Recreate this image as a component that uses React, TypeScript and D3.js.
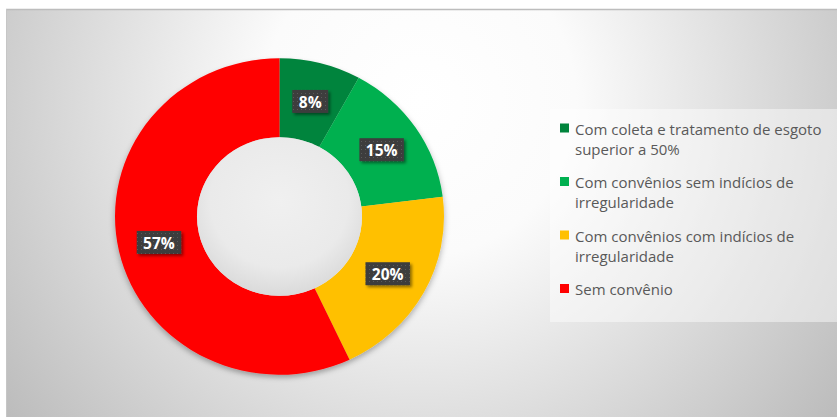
import React from "react";
import * as d3 from "d3";

const categories = [
  "Com coleta e tratamento de esgoto superior a 50%",
  "Com convênios sem indícios de irregularidade",
  "Com convênios com indícios de irregularidade",
  "Sem convênio",
];
const legendLines = [
  ["Com coleta e tratamento de esgoto", "superior a 50%"],
  ["Com convênios sem indícios de", "irregularidade"],
  ["Com convênios com indícios de", "irregularidade"],
  ["Sem convênio"],
];
const values = [8, 15, 20, 57];
const colors = ["#00843c", "#00b050", "#ffc000", "#ff0000"];

const W = 837;
const H = 417;
const CX = 279.5;
const CY = 216.5;
const R_OUT = 164.5;
const R_IN = 82.5;
const SY = 0.962;

export default function App() {
  const pie = d3.pie<number>().sort(null).value((d) => d);
  const arcs = pie(values);
  const arc = d3.arc<d3.PieArcDatum<number>>().innerRadius(R_IN).outerRadius(R_OUT);
  const labelArc = d3
    .arc<d3.PieArcDatum<number>>()
    .innerRadius((R_IN + R_OUT) / 2)
    .outerRadius((R_IN + R_OUT) / 2);

  const legendX = 560;
  const legendY0 = 128.5;
  const itemGap = 53.5;
  const lineH = 20;

  return (
    <svg
      width={W}
      height={H}
      style={{ position: "absolute", left: 0, top: 0, background: "#fff" }}
      fontFamily="'Open Sans', Lato, sans-serif"
    >
      <defs>
        <radialGradient id="bg" gradientUnits="userSpaceOnUse" cx={420} cy={100} r={520}>
          <stop offset="0" stopColor="#ffffff" />
          <stop offset="0.3" stopColor="#fbfbfb" />
          <stop offset="1" stopColor="#bcbcbc" />
        </radialGradient>
        <radialGradient id="hole" cx="0.5" cy="0.4" r="0.6">
          <stop offset="0" stopColor="#f0f0f0" />
          <stop offset="0.7" stopColor="#eaeaea" />
          <stop offset="1" stopColor="#dadada" />
        </radialGradient>
        <filter id="dshadow" x="-20%" y="-20%" width="140%" height="140%">
          <feDropShadow dx="0" dy="3" stdDeviation="3" floodColor="#000" floodOpacity="0.3" />
        </filter>
        <filter id="lshadow" x="-30%" y="-30%" width="160%" height="160%">
          <feDropShadow dx="2" dy="2" stdDeviation="1.5" floodColor="#000" floodOpacity="0.45" />
        </filter>
        <pattern id="dots" width="4" height="4" patternUnits="userSpaceOnUse">
          <rect width="4" height="4" fill="#3d3d3d" />
          <rect x="1" y="1" width="1" height="1" fill="#5a5a5a" />
        </pattern>
      </defs>

      <rect x={6} y={9} width={W - 6} height={H - 9} fill="url(#bg)" />
      <line x1={6} y1={9.5} x2={W} y2={9.5} stroke="#bdbdbd" strokeWidth={1.5} />
      <line x1={6.5} y1={9} x2={6.5} y2={H} stroke="#c6c6c6" strokeWidth={1} />

      <g transform={`translate(${CX},${CY}) scale(1,${SY})`} filter="url(#dshadow)">
        {arcs.map((a, i) => (
          <path key={categories[i]} d={arc(a) || ""} fill={colors[i]} />
        ))}
      </g>
      <ellipse cx={CX} cy={CY} rx={R_IN} ry={R_IN * SY} fill="url(#hole)" />

      {arcs.map((a, i) => {
        const [lx, ly] = labelArc.centroid(a);
        const x = CX + lx;
        const y = CY + ly * SY;
        const txt = `${values[i]}%`;
        const w = (txt.length - 1) * 8.6 + 12.3 + 15;
        const h = 23;
        return (
          <g key={"l" + i}>
            <rect
              x={x - w / 2}
              y={y - h / 2}
              width={w}
              height={h}
              fill="url(#dots)"
              filter="url(#lshadow)"
            />
            <text
              x={x}
              y={y + 0.5}
              textAnchor="middle"
              dominantBaseline="central"
              fill="#ffffff"
              fontWeight="bold"
              fontSize={15.5}
            >
              {txt}
            </text>
          </g>
        );
      })}

      <rect x={550} y={109} width={W - 550} height={213} fill="#ffffff" fillOpacity={0.45} />
      {legendLines.map((lines, i) => {
        const y = legendY0 + i * itemGap;
        return (
          <g key={"lg" + i}>
            <rect x={legendX} y={y - 5} width={9} height={9} fill={colors[i]} />
            {lines.map((t, j) => (
              <text
                key={j}
                x={575}
                y={y + j * lineH}
                dominantBaseline="central"
                fontSize={15}
                fill="#595959"
              >
                {t}
              </text>
            ))}
          </g>
        );
      })}
    </svg>
  );
}
